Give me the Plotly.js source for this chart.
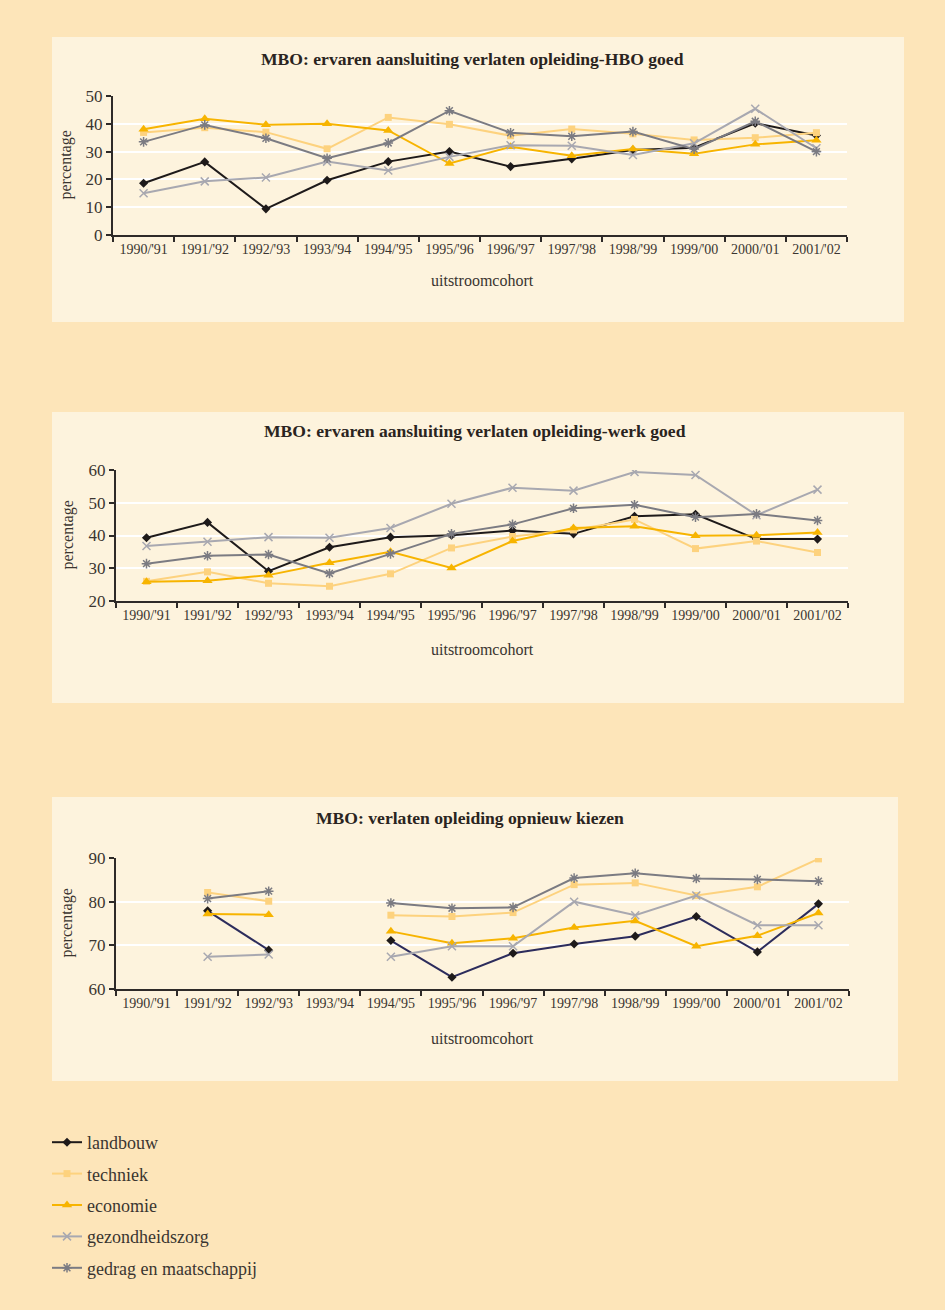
<!DOCTYPE html>
<html>
<head>
<meta charset="utf-8">
<script src="https://cdn.plot.ly/plotly-3.0.1.min.js"></script>
<style>
  html, body { margin: 0; padding: 0; background: #fde5b9; }
  #chart { width: 945px; height: 1310px; }
</style>
</head>
<body>
<div id="chart"></div>
<script>
// ---------- data ----------
const cohorts = ["1990/'91","1991/'92","1992/'93","1993/'94","1994/'95","1995/'96","1996/'97","1997/'98","1998/'99","1999/'00","2000/'01","2001/'02"];
const seriesNames = ["landbouw","techniek","economie","gezondheidszorg","gedrag en maatschappij"];

const chartTitles = [
  "MBO: ervaren aansluiting verlaten opleiding-HBO goed",
  "MBO: ervaren aansluiting verlaten opleiding-werk goed",
  "MBO: verlaten opleiding opnieuw kiezen"
];
const yTitle = "percentage";
const xTitle = "uitstroomcohort";

// Chart 1: HBO goed
const hbo_landbouw   = [18.6, 26.3, 9.4, 19.7, 26.4, 30.0, 24.6, 27.4, 30.6, 31.4, 40.2, 35.8];
const hbo_techniek   = [36.9, 38.6, 37.0, 31.0, 42.3, 39.8, 35.7, 38.1, 36.4, 34.2, 35.0, 36.8];
const hbo_economie   = [38.0, 41.8, 39.7, 40.0, 37.6, 25.7, 31.7, 28.5, 30.9, 29.2, 32.6, 34.1];
const hbo_gezondheid = [15.0, 19.3, 20.7, 26.4, 23.2, 28.1, 32.3, 32.1, 28.8, 33.0, 45.4, 31.2];
const hbo_gedrag     = [33.5, 39.6, 34.8, 27.6, 33.1, 44.7, 36.8, 35.5, 37.2, 30.9, 40.9, 30.0];

// Chart 2: werk goed
const werk_landbouw   = [39.3, 44.0, 29.1, 36.4, 39.5, 40.1, 41.5, 40.5, 45.9, 46.5, 38.9, 38.9];
const werk_techniek   = [26.0, 28.9, 25.4, 24.5, 28.3, 36.2, 39.7, 41.7, 44.9, 36.0, 38.3, 34.8];
const werk_economie   = [25.9, 26.2, 27.9, 31.7, 35.0, 30.1, 38.3, 42.3, 42.8, 39.9, 40.1, 40.9];
const werk_gezondheid = [36.8, 38.1, 39.5, 39.3, 42.3, 49.7, 54.6, 53.7, 59.4, 58.5, 46.2, 54.0];
const werk_gedrag     = [31.4, 33.8, 34.2, 28.4, 34.4, 40.5, 43.4, 48.3, 49.4, 45.6, 46.6, 44.6];

// Chart 3: opnieuw kiezen (no data for 1990/'91 and 1993/'94)
const kies_landbouw   = [null, 77.9, 68.9, null, 71.1, 62.7, 68.2, 70.3, 72.1, 76.6, 68.5, 79.5];
const kies_techniek   = [null, 82.1, 80.1, null, 76.9, 76.6, 77.5, 83.9, 84.3, 81.4, 83.4, 89.8];
const kies_economie   = [null, 77.2, 77.0, null, 73.2, 70.5, 71.6, 74.1, 75.6, 69.8, 72.2, 77.4];
const kies_gezondheid = [null, 67.4, 67.9, null, 67.4, 69.8, 69.8, 80.0, 76.9, 81.4, 74.6, 74.6];
const kies_gedrag     = [null, 80.7, 82.4, null, 79.7, 78.5, 78.7, 85.4, 86.5, 85.3, 85.1, 84.7];

const yRanges = [[0, 50], [20, 60], [60, 90]];

// ---------- styles ----------
const FONT = "Liberation Serif, Times New Roman, serif";
const TXT = "#3a3530";
const styles = [
  {color: "#1e1a1a", symbol: "diamond", size: 7, lw: 2},
  {color: "#fdd27e", symbol: "square", size: 7, lw: 2},
  {color: "#f7b400", symbol: "triangle-up", size: 9, lw: 2},
  {color: "#a8a8b0", symbol: "x-thin-open", size: 8, lw: 2},
  {color: "#7b7b82", symbol: "asterisk-open", size: 8, lw: 2}
];

const dataSets = [
  [hbo_landbouw, hbo_techniek, hbo_economie, hbo_gezondheid, hbo_gedrag],
  [werk_landbouw, werk_techniek, werk_economie, werk_gezondheid, werk_gedrag],
  [kies_landbouw, kies_techniek, kies_economie, kies_gezondheid, kies_gedrag]
];

const W = 945, H = 1310;
const px = v => v / W;
const py = v => 1 - v / H;

// plot-area geometry (pixels)
const plots = [
  {x0: 113, x1: 847, top: 96,  bottom: 235},
  {x0: 116, x1: 848, top: 470, bottom: 601},
  {x0: 116, x1: 849, top: 858, bottom: 989}
];
const panels = [
  {x0: 52, x1: 904, y0: 37,  y1: 322, titleY: 59,  titleX: 473, yTitleX: 66, xTitleY: 281},
  {x0: 52, x1: 904, y0: 412, y1: 703, titleY: 431, titleX: 475, yTitleX: 67, xTitleY: 649},
  {x0: 52, x1: 898, y0: 797, y1: 1081, titleY: 818, titleX: 470, yTitleX: 66, xTitleY: 1038}
];

const traces = [];
const layout = {
  width: W, height: H,
  margin: {l: 0, r: 0, t: 0, b: 0},
  paper_bgcolor: "#fde5b9",
  plot_bgcolor: "rgba(0,0,0,0)",
  font: {family: FONT, color: TXT},
  showlegend: true,
  legend: {
    x: px(47), y: py(1124), xanchor: "left", yanchor: "top",
    bgcolor: "rgba(0,0,0,0)",
    font: {family: FONT, size: 18, color: TXT},
    tracegroupgap: 5,
    traceorder: "grouped"
  },
  shapes: [],
  annotations: []
};

dataSets.forEach((set, ci) => {
  const suffix = ci === 0 ? "" : String(ci + 1);
  const xa = "x" + suffix, ya = "y" + suffix;
  set.forEach((vals, si) => {
    const st = styles[si];
    let lineColor = st.color;
    if (ci === 2 && si === 0) lineColor = "#2c2c5c";
    const isLineSym = st.symbol.indexOf("open") >= 0;
    traces.push({
      type: "scatter", mode: "lines+markers",
      x: cohorts, y: vals,
      xaxis: xa, yaxis: ya,
      name: seriesNames[si],
      legendgroup: seriesNames[si],
      showlegend: ci === 0,
      connectgaps: false,
      line: {color: lineColor, width: st.lw},
      marker: isLineSym
        ? {symbol: st.symbol, size: st.size, color: st.color, line: {color: st.color, width: 1.5}}
        : {symbol: st.symbol, size: st.size, color: st.color, line: {width: 0}},
      hoverinfo: "x+y+name"
    });
  });

  const p = plots[ci], pn = panels[ci];
  layout["xaxis" + suffix] = {
    domain: [px(p.x0), px(p.x1)],
    anchor: ya,
    type: "category",
    categoryorder: "array", categoryarray: cohorts,
    range: [-0.5, 11.5],
    showgrid: false, zeroline: false,
    showline: true, linecolor: "#2e2a28", linewidth: 2,
    ticks: "outside", tickson: "boundaries", ticklen: 5, tickwidth: 2, tickcolor: "#2e2a28",
    tickfont: {family: FONT, size: 14, color: TXT},
    tickangle: 0,
    fixedrange: true
  };
  layout["yaxis" + suffix] = {
    domain: [py(p.bottom), py(p.top)],
    anchor: xa,
    range: yRanges[ci],
    dtick: 10,
    showgrid: true, gridcolor: "#ffffff", gridwidth: 2,
    zeroline: false,
    showline: true, linecolor: "#2e2a28", linewidth: 2,
    ticks: "outside", ticklen: 5, tickwidth: 2, tickcolor: "#2e2a28",
    tickfont: {family: FONT, size: 17, color: TXT},
    fixedrange: true
  };

  layout.shapes.push({
    type: "rect", xref: "paper", yref: "paper", layer: "below",
    x0: px(pn.x0), x1: px(pn.x1), y0: py(pn.y1), y1: py(pn.y0),
    fillcolor: "#fdf3dd", line: {width: 0}
  });
  layout.annotations.push({
    xref: "paper", yref: "paper", x: px(pn.titleX), y: py(pn.titleY),
    xanchor: "center", yanchor: "middle", showarrow: false,
    text: "<b>" + chartTitles[ci] + "</b>",
    font: {family: FONT, size: 17.6, color: "#2a2420"}
  });
  layout.annotations.push({
    xref: "paper", yref: "paper", x: px(pn.yTitleX), y: py((p.top + p.bottom) / 2),
    xanchor: "center", yanchor: "middle", showarrow: false, textangle: -90,
    text: yTitle, font: {family: FONT, size: 16, color: TXT}
  });
  layout.annotations.push({
    xref: "paper", yref: "paper", x: px(483), y: py(pn.xTitleY),
    xanchor: "center", yanchor: "middle", showarrow: false,
    text: xTitle, font: {family: FONT, size: 16, color: TXT}
  });
});

Plotly.newPlot("chart", traces, layout, {displayModeBar: false, staticPlot: false});
</script>
</body>
</html>
